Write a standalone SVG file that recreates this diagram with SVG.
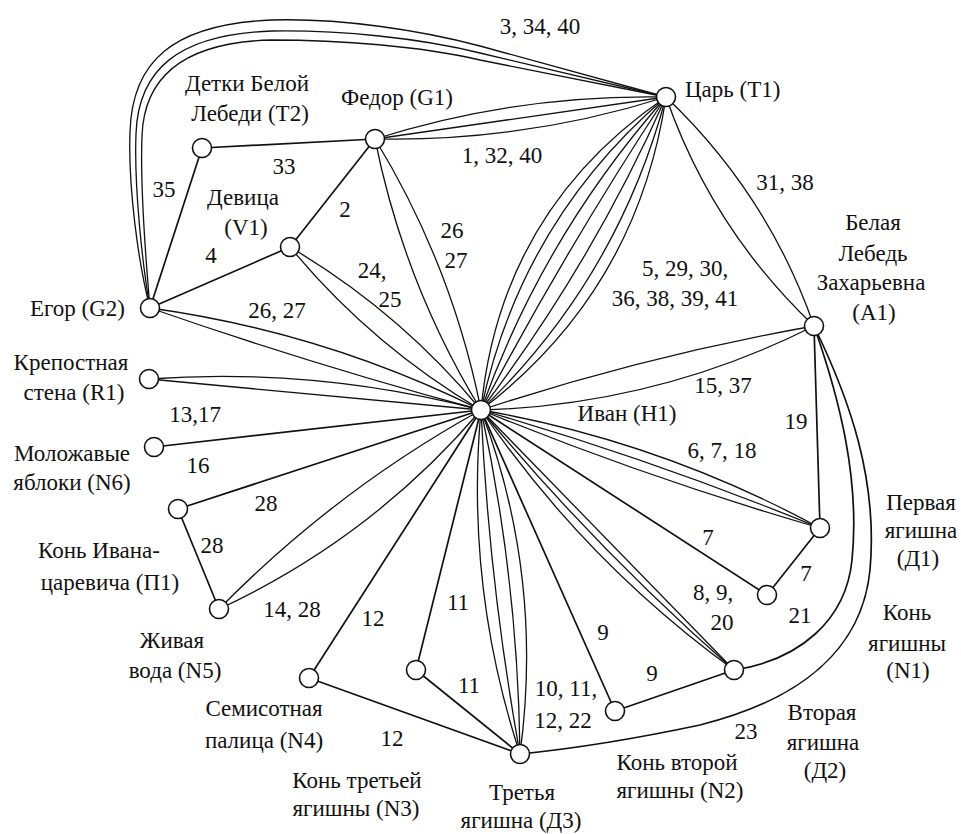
<svg xmlns="http://www.w3.org/2000/svg" width="961" height="834" viewBox="0 0 961 834">
<style>
  .bg { fill: #ffffff; }
  .e { fill: none; stroke: #111; stroke-width: 1.7; }
  .c { fill: none; stroke: #111; stroke-width: 1.3; }
  .n { fill: #ffffff; stroke: #111; stroke-width: 1.6; }
  text { font-size: 23px; fill: #111; text-anchor: middle; }
  .l { text-anchor: start; }
  .r { text-anchor: end; }
</style>
<rect class="bg" x="0" y="0" width="961" height="834"/>
<g id="connectors">
  <path class="c" d="M150,308 C 138,262 128,185 130,132 C 132,62 172,24 272,20 C 340,18 420,30 480,46 L 666,97"/>
  <path class="c" d="M150,308 C 142,262 134,185 136,134 C 138,70 178,34 272,31 C 340,30 420,38 480,53 L 666,97"/>
  <path class="c" d="M150,308 C 146,262 140,185 142,136 C 144,78 182,42 272,40 C 340,40 420,46 480,60 L 666,97"/>
  <path class="c" d="M375,139 Q 517,94 666,97"/>
  <path class="c" d="M375,139 L 666,97"/>
  <path class="c" d="M375,139 Q 524,142 666,97"/>
  <path class="c" d="M666,97 Q 500,210 481,410"/>
  <path class="c" d="M666,97 Q 520,222 481,410"/>
  <path class="c" d="M666,97 Q 543,236 481,410"/>
  <path class="c" d="M666,97 Q 566,249 481,410"/>
  <path class="c" d="M666,97 Q 592,264 481,410"/>
  <path class="c" d="M666,97 Q 617,280 481,410"/>
  <path class="c" d="M666,97 Q 637,291 481,410"/>
  <path class="c" d="M666,97 Q 712,229 814,326"/>
  <path class="c" d="M666,97 Q 768,194 814,326"/>
  <path class="e" d="M375,139 L 202,148"/>
  <path class="e" d="M375,139 L 290,247"/>
  <path class="c" d="M375,139 Q 452,265 481,410"/>
  <path class="c" d="M375,139 Q 404,284 481,410"/>
  <path class="e" d="M202,148 L 150,308"/>
  <path class="e" d="M290,247 L 150,308"/>
  <path class="c" d="M290,247 Q 400,312 481,410"/>
  <path class="c" d="M290,247 Q 371,345 481,410"/>
  <path class="c" d="M150,308 Q 324,332 481,410"/>
  <path class="c" d="M150,308 Q 314,365 481,410"/>
  <path class="c" d="M149,379 Q 317,367 481,410"/>
  <path class="c" d="M149,379 L 481,410"/>
  <path class="e" d="M154,447 L 481,410"/>
  <path class="e" d="M178,509 L 481,410"/>
  <path class="e" d="M178,509 L 219,609"/>
  <path class="c" d="M219,609 Q 336,490 481,410"/>
  <path class="c" d="M219,609 Q 372,538 481,410"/>
  <path class="e" d="M309,678 L 481,410"/>
  <path class="e" d="M309,678 L 520,754"/>
  <path class="e" d="M416,670 L 481,410"/>
  <path class="e" d="M416,670 L 520,754"/>
  <path class="c" d="M481,410 Q 465,586 520,754"/>
  <path class="c" d="M481,410 Q 489,583 520,754"/>
  <path class="c" d="M481,410 Q 518,580 520,754"/>
  <path class="c" d="M481,410 Q 544,577 520,754"/>
  <path class="e" d="M615,711 L 481,410"/>
  <path class="e" d="M615,711 L 734,670"/>
  <path class="c" d="M481,410 Q 585,562 734,670"/>
  <path class="c" d="M481,410 Q 597,550 734,670"/>
  <path class="c" d="M481,410 L 734,670"/>
  <path class="e" d="M767,595 L 481,410"/>
  <path class="e" d="M767,595 L 820,528"/>
  <path class="c" d="M481,410 Q 660,441 820,528"/>
  <path class="c" d="M481,410 Q 654,460 820,528"/>
  <path class="c" d="M481,410 Q 647,478 820,528"/>
  <path class="e" d="M814,326 L 820,528"/>
  <path class="c" d="M481,410 Q 645,356 814,326"/>
  <path class="c" d="M481,410 Q 657,405 814,326"/>
  <path class="e" d="M814,326 C 840,400 860,480 852,560 C 846,620 800,660 734,670"/>
  <path class="e" d="M814,326 C 850,400 878,480 870,570 C 862,650 800,700 700,725 C 620,742 560,750 520,754"/>
</g>
<g font-family="'Liberation Serif', Tinos, 'Times New Roman', 'DejaVu Serif', 'Noto Serif', serif">
<g id="edge-labels">
  <text x="540" y="34">3, 34, 40</text>
  <text x="502" y="163">1, 32, 40</text>
  <text x="284" y="174">33</text>
  <text x="164" y="197">35</text>
  <text x="345" y="217">2</text>
  <text x="211" y="263">4</text>
  <text x="452" y="238">26</text>
  <text x="456" y="268">27</text>
  <text x="372" y="278">24,</text>
  <text x="390" y="307">25</text>
  <text x="277" y="318">26, 27</text>
  <text x="195" y="422">13,17</text>
  <text x="198" y="473">16</text>
  <text x="266" y="511">28</text>
  <text x="212" y="553">28</text>
  <text x="292" y="617">14, 28</text>
  <text x="373" y="626">12</text>
  <text x="458" y="610">11</text>
  <text x="469" y="693">11</text>
  <text x="392" y="746">12</text>
  <text x="566" y="696">10, 11,</text>
  <text x="563" y="728">12, 22</text>
  <text x="603" y="640">9</text>
  <text x="652" y="681">9</text>
  <text x="713" y="600">8, 9,</text>
  <text x="722" y="630">20</text>
  <text x="746" y="739">23</text>
  <text x="806" y="581">7</text>
  <text x="800" y="623">21</text>
  <text x="708" y="545">7</text>
  <text x="796" y="429">19</text>
  <text x="722" y="458">6, 7, 18</text>
  <text x="723" y="393">15, 37</text>
  <text x="685" y="276">5, 29, 30,</text>
  <text x="675" y="306">36, 38, 39, 41</text>
  <text x="785" y="190">31, 38</text>
</g>
<g id="node-T1">
  <circle class="n" cx="666" cy="97" r="9.5"/>
  <text class="l" x="685" y="97">Царь (T1)</text>
</g>
<g id="node-G1">
  <circle class="n" cx="375" cy="139" r="9.5"/>
  <text x="397" y="105">Федор (G1)</text>
</g>
<g id="node-T2">
  <circle class="n" cx="202" cy="148" r="9.5"/>
  <text x="247" y="91">Детки Белой</text>
  <text x="250" y="121">Лебеди (T2)</text>
</g>
<g id="node-V1">
  <circle class="n" cx="290" cy="247" r="9.5"/>
  <text x="243" y="205">Девица</text>
  <text x="246" y="235">(V1)</text>
</g>
<g id="node-G2">
  <circle class="n" cx="150" cy="308" r="9.5"/>
  <text class="r" x="125" y="316">Егор (G2)</text>
</g>
<g id="node-R1">
  <circle class="n" cx="149" cy="379" r="9.5"/>
  <text x="71" y="370">Крепостная</text>
  <text x="74" y="400">стена (R1)</text>
</g>
<g id="node-N6">
  <circle class="n" cx="154" cy="447" r="9.5"/>
  <text x="72" y="461">Моложавые</text>
  <text x="72" y="490">яблоки (N6)</text>
</g>
<g id="node-P1">
  <circle class="n" cx="178" cy="509" r="9.5"/>
  <text x="99" y="558">Конь Ивана-</text>
  <text x="110" y="590">царевича (П1)</text>
</g>
<g id="node-N5">
  <circle class="n" cx="219" cy="609" r="9.5"/>
  <text x="172" y="648">Живая</text>
  <text x="175" y="678">вода (N5)</text>
</g>
<g id="node-N4">
  <circle class="n" cx="309" cy="678" r="9.5"/>
  <text x="264" y="716">Семисотная</text>
  <text x="264" y="748">палица (N4)</text>
</g>
<g id="node-N3">
  <circle class="n" cx="416" cy="670" r="9.5"/>
  <text x="357" y="788">Конь третьей</text>
  <text x="356" y="816">ягишны (N3)</text>
</g>
<g id="node-D3">
  <circle class="n" cx="520" cy="754" r="9.5"/>
  <text x="522" y="800">Третья</text>
  <text x="521" y="828">ягишна (Д3)</text>
</g>
<g id="node-N2">
  <circle class="n" cx="615" cy="711" r="9.5"/>
  <text x="677" y="770">Конь второй</text>
  <text x="680" y="798">ягишны (N2)</text>
</g>
<g id="node-D2">
  <circle class="n" cx="734" cy="670" r="9.5"/>
  <text x="822" y="720">Вторая</text>
  <text x="823" y="750">ягишна</text>
  <text x="825" y="778">(Д2)</text>
</g>
<g id="node-N1">
  <circle class="n" cx="767" cy="595" r="9.5"/>
  <text x="907" y="620">Конь</text>
  <text x="907" y="651">ягишны</text>
  <text x="908" y="678">(N1)</text>
</g>
<g id="node-D1">
  <circle class="n" cx="820" cy="528" r="9.5"/>
  <text x="921" y="510">Первая</text>
  <text x="921" y="538">ягишна</text>
  <text x="918" y="566">(Д1)</text>
</g>
<g id="node-A1">
  <circle class="n" cx="814" cy="326" r="9.5"/>
  <text x="873" y="230">Белая</text>
  <text x="873" y="261">Лебедь</text>
  <text x="871" y="290">Захарьевна</text>
  <text x="874" y="320">(A1)</text>
</g>
<g id="node-H1">
  <circle class="n" cx="481" cy="410" r="9.5"/>
  <text x="627" y="421">Иван (H1)</text>
</g>
</g>
</svg>
